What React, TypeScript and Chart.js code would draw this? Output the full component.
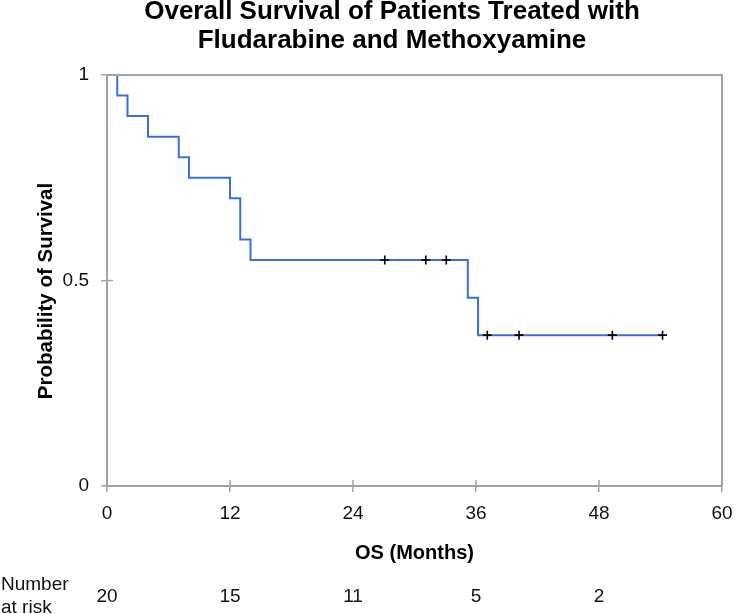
import React, { useEffect, useRef } from "react";
import { Chart, registerables } from "chart.js";

Chart.register(...registerables);

// ---- data ----
const titleLines = ["Overall Survival of Patients Treated with", "Fludarabine and Methoxyamine"];
const xAxisTitle = "OS (Months)";
const yAxisTitle = "Probability of Survival";

// Kaplan–Meier step points (time in months, survival probability)
const kmTimes = [0, 1, 2, 4, 7, 8, 12, 13, 14, 35.2, 36.2, 54.2];
const kmSurvival = [1, 0.95, 0.9, 0.85, 0.8, 0.75, 0.7, 0.6, 0.55, 0.458, 0.367, 0.367];

// censored observations
const censorTimes = [27.1, 31.1, 33.1, 37.1, 40.2, 49.3, 54.2];
const censorSurvival = [0.55, 0.55, 0.55, 0.367, 0.367, 0.367, 0.367];

// axes
const xTickValues = [0, 12, 24, 36, 48, 60];
const yTickValues = [0, 0.5, 1];
const yTickLabels = ["0", "0.5", "1"];

// number at risk
const riskLabel = ["Number", "at risk"];
const riskTimes = [0, 12, 24, 36, 48];
const riskCounts = [20, 15, 11, 5, 2];

const FONT = "'Liberation Sans', Arial, Helvetica, sans-serif";
const AXIS_COLOR = "#a3a3a3";
const TEXT_COLOR = "#111111";
const CURVE_COLOR = "#3a6ee0";

const decorPlugin = {
  id: "kmDecor",
  afterDraw(chart: any) {
    const { ctx, chartArea, scales } = chart;
    const xs = scales.x;
    const ys = scales.y;
    ctx.save();
    // frame top & right
    ctx.strokeStyle = AXIS_COLOR;
    ctx.lineWidth = 2;
    ctx.beginPath();
    ctx.moveTo(chartArea.left, chartArea.top);
    ctx.lineTo(chartArea.right, chartArea.top);
    ctx.lineTo(chartArea.right, chartArea.bottom);
    ctx.stroke();
    // inner tick halves
    ctx.lineWidth = 1.5;
    ctx.beginPath();
    xTickValues.forEach((v) => {
      const px = xs.getPixelForValue(v);
      ctx.moveTo(px, chartArea.bottom);
      ctx.lineTo(px, chartArea.bottom - 6);
    });
    yTickValues.forEach((v) => {
      const py = ys.getPixelForValue(v);
      ctx.moveTo(chartArea.left, py);
      ctx.lineTo(chartArea.left + 6, py);
    });
    ctx.stroke();

    ctx.fillStyle = "#000";
    // title
    ctx.font = `bold 26px ${FONT}`;
    ctx.textAlign = "center";
    ctx.textBaseline = "alphabetic";
    ctx.fillText(titleLines[0], 392, 19);
    ctx.fillText(titleLines[1], 392, 48);

    // x axis title
    ctx.font = `bold 20px ${FONT}`;
    ctx.fillText(xAxisTitle, (chartArea.left + chartArea.right) / 2, 559);

    // y axis title
    ctx.save();
    ctx.font = `bold 20.5px ${FONT}`;
    ctx.translate(52, 291);
    ctx.rotate(-Math.PI / 2);
    ctx.textAlign = "center";
    ctx.fillText(yAxisTitle, 0, 0);
    ctx.restore();

    // number at risk
    ctx.fillStyle = TEXT_COLOR;
    ctx.font = `19px ${FONT}`;
    ctx.textAlign = "left";
    ctx.fillText(riskLabel[0], 1, 590);
    ctx.fillText(riskLabel[1], 1, 613);
    ctx.textAlign = "center";
    riskTimes.forEach((t, i) => {
      ctx.fillText(String(riskCounts[i]), xs.getPixelForValue(t), 602);
    });
    ctx.restore();
  },
};

export default function App() {
  const canvasRef = useRef<HTMLCanvasElement | null>(null);

  useEffect(() => {
    if (!canvasRef.current) return;
    const chart = new Chart(canvasRef.current, {
      type: "scatter",
      data: {
        datasets: [
          {
            label: "Censored",
            data: censorTimes.map((t, i) => ({ x: t, y: censorSurvival[i] })),
            pointStyle: "cross",
            pointRadius: 4.5,
            borderColor: "#000",
            backgroundColor: "#000",
            borderWidth: 1.6,
            order: 0,
          },
          {
            type: "line",
            label: "Survival",
            data: kmTimes.map((t, i) => ({ x: t, y: kmSurvival[i] })),
            stepped: true,
            borderColor: CURVE_COLOR,
            borderWidth: 2,
            pointRadius: 0,
            fill: false,
            order: 1,
          } as any,
        ],
      },
      options: {
        responsive: false,
        animation: false,
        layout: { padding: { top: 75, right: 14, left: 0, bottom: 0 } },
        plugins: {
          legend: { display: false },
          title: { display: false },
          tooltip: { enabled: false },
        },
        scales: {
          x: {
            type: "linear",
            min: 0,
            max: 60,
            afterFit: (s: any) => {
              s.height = 128;
              s.paddingLeft = 0;
              s.paddingRight = 0;
            },
            afterBuildTicks: (s: any) => {
              s.ticks = xTickValues.map((v) => ({ value: v }));
            },
            ticks: {
              callback: (v: any) => String(v),
              color: TEXT_COLOR,
              font: { family: FONT, size: 19 },
              padding: 10,
              maxRotation: 0,
            },
            grid: {
              display: true,
              drawOnChartArea: false,
              drawTicks: true,
              tickLength: 6,
              color: AXIS_COLOR,
              lineWidth: 1.5,
            },
            border: { display: true, color: AXIS_COLOR, width: 2 },
          },
          y: {
            type: "linear",
            min: 0,
            max: 1,
            afterFit: (s: any) => {
              s.width = 107;
              s.paddingTop = 0;
              s.paddingBottom = 0;
            },
            afterBuildTicks: (s: any) => {
              s.ticks = yTickValues.map((v) => ({ value: v }));
            },
            ticks: {
              callback: (v: any) => {
                const i = yTickValues.indexOf(Number(v));
                return i >= 0 ? yTickLabels[i] : "";
              },
              color: TEXT_COLOR,
              font: { family: FONT, size: 19 },
              padding: 12,
            },
            grid: {
              display: true,
              drawOnChartArea: false,
              drawTicks: true,
              tickLength: 6,
              color: AXIS_COLOR,
              lineWidth: 1.5,
            },
            border: { display: true, color: AXIS_COLOR, width: 2 },
          },
        },
      },
      plugins: [decorPlugin],
    });
    return () => chart.destroy();
  }, []);

  return (
    <div style={{ position: "fixed", left: 0, top: 0, width: 736, height: 614, background: "#fff" }}>
      <canvas ref={canvasRef} width={736} height={614} style={{ display: "block" }} />
    </div>
  );
}
